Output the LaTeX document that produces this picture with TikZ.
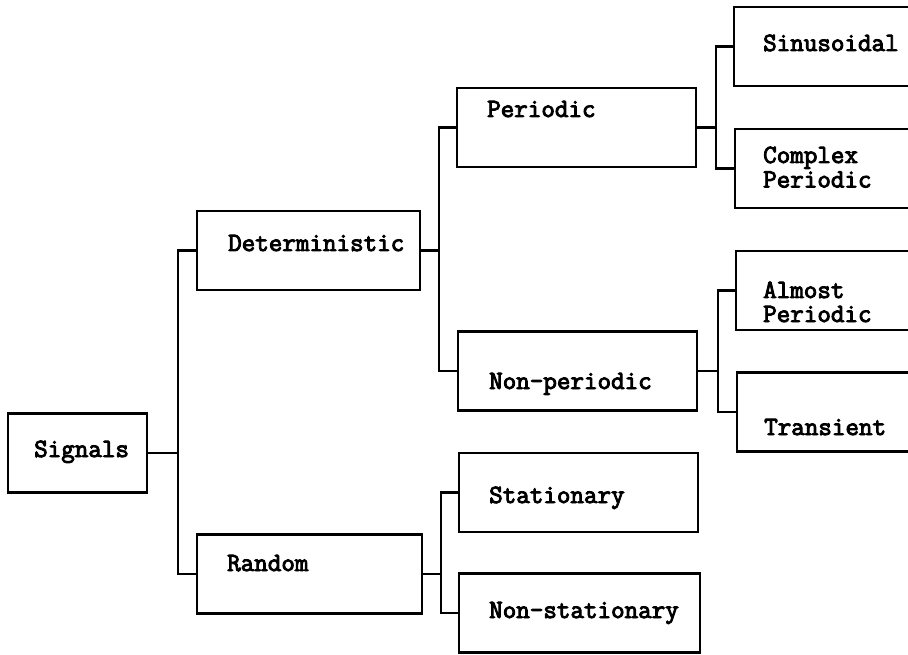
\documentclass[tikz,border=0pt]{standalone}
\usepackage{fontspec}
\newfontfamily\boxfont{Latin Modern Mono}[FakeBold=3.5]
\begin{document}
\begin{tikzpicture}[x=1pt,y=-1pt,
  box/.style={draw=black,line width=2.4pt,inner sep=0pt,outer sep=0pt,
    minimum height=79pt},
  lbl/.style={anchor=base west,inner sep=0pt,text height=16pt,text depth=4pt,
    font=\boxfont\fontsize{26.3}{26}\selectfont},
  link/.style={draw=black,line width=2.4pt}]
\useasboundingbox (0,0) rectangle (908,655);
\begin{scope}
\clip (0,0) rectangle (908,655);
% boxes (centres and sizes)
\node[box,minimum width=139pt] (sig) at (77.5,453) {};
\node[box,minimum width=223pt] (det) at (308.5,250.5) {};
\node[box,minimum width=225pt] (ran) at (309.5,574) {};
\node[box,minimum width=239pt] (per) at (576.5,127.5) {};
\node[box,minimum width=239pt] (non) at (577.5,371) {};
\node[box,minimum width=239pt] (sta) at (578.5,492.5) {};
\node[box,minimum width=241pt] (nst) at (579.5,613) {};
% right-hand boxes run past the edge of the page
\node[box,minimum width=196pt] (sin) at (832,46.5) {};
\node[box,minimum width=195pt] (cpx) at (832.5,168.5) {};
\node[box,minimum width=194pt] (alm) at (833,290.5) {};
\node[box,minimum width=193pt] (tra) at (833.5,412) {};
\end{scope}
% labels
\node[lbl] (tsig) at (34,457) {Signals};
\node[lbl] (tdet) at (228,251) {Deterministic};
\node[lbl] (tran) at (227,571) {Random};
\node[lbl] (tper) at (487,117) {Periodic};
\node[lbl] (tnon) at (489,389) {Non-periodic};
\node[lbl] (tsta) at (489,503) {Stationary};
\node[lbl] (tnst) at (489,618) {Non-stationary};
\node[lbl] (tsin) at (763,51) {Sinusoidal};
\node[lbl] (tcpx1) at (763,163) {Complex};
\node[lbl] (tcpx2) at (763,187.5) {Periodic};
\node[lbl] (talm1) at (763,298) {Almost};
\node[lbl] (talm2) at (763,322) {Periodic};
\node[lbl] (ttra) at (764,435) {Transient};
% tree connectors
\path[link] (sig.east) -- ++(31,0) coordinate (j1) |- (det.west);
\path[link] (j1) |- (ran.west);
\path[link] (det.east) -- ++(19,0) coordinate (j2) |- (per.west);
\path[link] (j2) |- (non.west);
\path[link] (ran.east) -- ++(19,0) coordinate (j3) |- (sta.west);
\path[link] (j3) |- (nst.west);
\path[link] (per.east) -- ++(20,0) coordinate (j4) |- (sin.west);
\path[link] (j4) |- (cpx.west);
\path[link] (non.east) -- ++(21,0) coordinate (j5) |- (alm.west);
\path[link] (j5) |- (tra.west);
\end{tikzpicture}
\end{document}
